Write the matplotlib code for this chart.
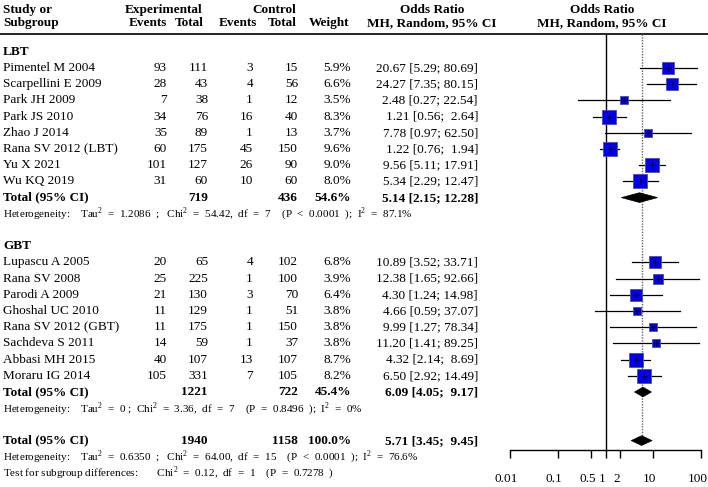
import matplotlib
matplotlib.use("Agg")
import matplotlib.pyplot as plt
import matplotlib.transforms as mtransforms
import numpy as np
from matplotlib.patches import Polygon

plt.rcParams['font.family'] = ['Liberation Serif', 'DejaVu Serif']
plt.rcParams['mathtext.fontset'] = 'custom'
plt.rcParams['mathtext.rm'] = 'Liberation Serif'

# LBT subgroup
lbt_names = ["Pimentel M 2004", "Scarpellini E 2009", "Park JH 2009", "Park JS 2010",
             "Zhao J 2014", "Rana SV 2012 (LBT)", "Yu X 2021", "Wu KQ 2019"]
lbt_e_ev = [93, 28, 7, 34, 35, 60, 101, 31]
lbt_e_tot = [111, 43, 38, 76, 89, 175, 127, 60]
lbt_c_ev = [3, 4, 1, 16, 1, 45, 26, 10]
lbt_c_tot = [15, 56, 12, 40, 13, 150, 90, 60]
lbt_w = [5.9, 6.6, 3.5, 8.3, 3.7, 9.6, 9.0, 8.0]
lbt_or = [20.67, 24.27, 2.48, 1.21, 7.78, 1.22, 9.56, 5.34]
lbt_lo = [5.29, 7.35, 0.27, 0.56, 0.97, 0.76, 5.11, 2.29]
lbt_hi = [80.69, 80.15, 22.54, 2.64, 62.50, 1.94, 17.91, 12.47]

# GBT subgroup
gbt_names = ["Lupascu A 2005", "Rana SV 2008", "Parodi A 2009", "Ghoshal UC 2010",
             "Rana SV 2012 (GBT)", "Sachdeva S 2011", "Abbasi MH 2015", "Moraru IG 2014"]
gbt_e_ev = [20, 25, 21, 11, 11, 14, 40, 105]
gbt_e_tot = [65, 225, 130, 129, 175, 59, 107, 331]
gbt_c_ev = [4, 1, 3, 1, 1, 1, 13, 7]
gbt_c_tot = [102, 100, 70, 51, 150, 37, 107, 105]
gbt_w = [6.8, 3.9, 6.4, 3.8, 3.8, 3.8, 8.7, 8.2]
gbt_or = [10.89, 12.38, 4.30, 4.66, 9.99, 11.20, 4.32, 6.50]
gbt_lo = [3.52, 1.65, 1.24, 0.59, 1.27, 1.41, 2.14, 2.92]
gbt_hi = [33.71, 92.66, 14.98, 37.07, 78.34, 89.25, 8.69, 14.49]

# pooled results: (exp total, ctrl total, weight, OR, lo, hi)
lbt_total = (719, 436, 54.6, 5.14, 2.15, 12.28)
gbt_total = (1221, 722, 45.4, 6.09, 4.05, 9.17)
all_total = (1940, 1158, 100.0, 5.71, 3.45, 9.45)

lbt_het = ("Heterogeneity:    Tau$^2$  =  1.2086  ;   Chi$^2$  =  54.42,  df  =  7    "
           "(P  <  0.0001  );  I$^2$  =  87.1%")
gbt_het = ("Heterogeneity:    Tau$^2$  =  0 ;  Chi$^2$  =  3.36,  df  =  7    "
           "(P  =  0.8496  );  I$^2$  =  0%")
all_het = ("Heterogeneity:    Tau$^2$  =  0.6350  ;   Chi$^2$  =  64.00,  df  =  15    "
           "(P  <  0.0001  );  I$^2$  =  76.6%")
sub_test = "Test for subgroup differences:       Chi$^2$  =  0.12,  df  =  1    (P  =  0.7278  )"

ticks = [0.01, 0.1, 0.5, 1, 2, 10, 100]
tick_labels = ["0.01", "0.1", "0.5", "1", "2", "10", "100"]

W, H = 708, 487
y0, dy = 68.0, 16.2          # pixel row of first study and row spacing
r_top = -y0 / dy
r_bot = (H - y0) / dy

fig = plt.figure(figsize=(W / 100, H / 100), dpi=100, facecolor='white')
ax = fig.add_axes([0, 0, 1, 1])
ax.set_xlim(0, W)
ax.set_ylim(r_bot, r_top)
ax.axis('off')

axf = fig.add_axes([510 / W, 0, 191 / W, 1])
axf.set_xscale('log')
axf.set_xlim(0.01, 100)
axf.set_ylim(r_bot, r_top)
axf.patch.set_alpha(0)
for s in ['top', 'left', 'right']:
    axf.spines[s].set_visible(False)

FS = 9.5
HFS = 8.0
cols = {'e_ev': 167, 'e_tot': 208, 'c_ev': 253, 'c_tot': 298, 'w': 351, 'or': 478}


def or_text(o, lo, hi):
    sp = "  " if hi < 10 else " "
    return f"{o:.2f} [{lo:.2f};{sp}{hi:.2f}]"


# header
hb = dict(fontsize=FS, fontweight='bold', va='center')
ax.text(3, -3.55, "Study or", ha='left', **hb)
ax.text(3, -2.75, "Subgroup", ha='left', **hb)
ax.text(164, -3.55, "Experimental", ha='center', **hb)
ax.text(167, -2.75, "Events", ha='right', **hb)
ax.text(204, -2.75, "Total", ha='right', **hb)
ax.text(274, -3.55, "Control", ha='center', **hb)
ax.text(257, -2.75, "Events", ha='right', **hb)
ax.text(297, -2.75, "Total", ha='right', **hb)
ax.text(349, -2.75, "Weight", ha='right', **hb)
ax.text(432, -3.55, "Odds Ratio", ha='center', **hb)
ax.text(432, -2.75, "MH, Random, 95% CI", ha='center', **hb)
ax.text(602, -3.55, "Odds Ratio", ha='center', **hb)
ax.text(602, -2.75, "MH, Random, 95% CI", ha='center', **hb)
ax.plot([0, W], [-2.1, -2.1], color='black', lw=1.2)


def draw_total(r, total):
    bt = dict(va='center', fontsize=FS, fontweight='bold', ha='right')
    ax.text(3, r, "Total (95% CI)", va='center', fontsize=FS, fontweight='bold', ha='left')
    ax.text(cols['e_tot'], r, str(total[0]), **bt)
    ax.text(cols['c_tot'], r, str(total[1]), **bt)
    ax.text(cols['w'], r, f"{total[2]:.1f}%", **bt)
    ax.text(cols['or'], r, or_text(total[3], total[4], total[5]), **bt)
    hh = 0.3
    axf.add_patch(Polygon([[total[4], r], [total[3], r - hh], [total[5], r], [total[3], r + hh]],
                          closed=True, facecolor='black', edgecolor='black', lw=0.5, zorder=4))


def draw_group(start, title, names, e_ev, e_tot, c_ev, c_tot, w, o, lo, hi, total, het):
    ax.text(3, start, title, ha='left', va='center', fontsize=FS, fontweight='bold')
    for i in range(len(names)):
        r = start + 1 + i
        ax.text(3, r, names[i], ha='left', va='center', fontsize=FS)
        ax.text(cols['e_ev'], r, str(e_ev[i]), ha='right', va='center', fontsize=FS)
        ax.text(cols['e_tot'], r, str(e_tot[i]), ha='right', va='center', fontsize=FS)
        ax.text(cols['c_ev'], r, str(c_ev[i]), ha='right', va='center', fontsize=FS)
        ax.text(cols['c_tot'], r, str(c_tot[i]), ha='right', va='center', fontsize=FS)
        ax.text(cols['w'], r, f"{w[i]:.1f}%", ha='right', va='center', fontsize=FS)
        ax.text(cols['or'], r, or_text(o[i], lo[i], hi[i]), ha='right', va='center', fontsize=FS)
        axf.plot([lo[i], hi[i]], [r, r], color='black', lw=0.9, zorder=3)
        side = 4.6 * np.sqrt(w[i]) * 0.72
        axf.plot(o[i], r, marker='s', ms=side, mfc='#0000ee', mec='#555577', mew=0.6, zorder=4)
        axf.plot(o[i], r, marker='+', ms=4, color='black', mew=0.6, zorder=5)
    r = start + 1 + len(names)
    draw_total(r, total)
    ax.text(3, r + 1, het, ha='left', va='center', fontsize=HFS)


draw_group(-1, "LBT", lbt_names, lbt_e_ev, lbt_e_tot, lbt_c_ev, lbt_c_tot,
           lbt_w, lbt_or, lbt_lo, lbt_hi, lbt_total, lbt_het)
draw_group(11, "GBT", gbt_names, gbt_e_ev, gbt_e_tot, gbt_c_ev, gbt_c_tot,
           gbt_w, gbt_or, gbt_lo, gbt_hi, gbt_total, gbt_het)
draw_total(23, all_total)
ax.text(3, 24, all_het, ha='left', va='center', fontsize=HFS)
ax.text(3, 25, sub_test, ha='left', va='center', fontsize=HFS)

# reference lines
r_axis = (450 - y0) / dy
axf.plot([1, 1], [-2.1, r_axis], color='black', lw=1.0, zorder=2)
axf.plot([all_total[3]] * 2, [-2.1, 23], color='#666666', lw=1.0, ls=(0, (1, 1)), zorder=1)

# x axis
axf.spines['bottom'].set_position(('data', r_axis))
axf.spines['bottom'].set_linewidth(1.0)
axf.set_xticks(ticks)
axf.set_xticklabels(tick_labels)
axf.minorticks_off()
axf.tick_params(axis='x', direction='out', length=5.8, width=1.0, pad=10.5, labelsize=FS)
axf.set_yticks([])
shift = mtransforms.ScaledTranslation(-3.5 / 100, 0, fig.dpi_scale_trans)
for lab in axf.get_xticklabels():
    lab.set_transform(lab.get_transform() + shift)

fig.savefig('out.png', dpi=100)
